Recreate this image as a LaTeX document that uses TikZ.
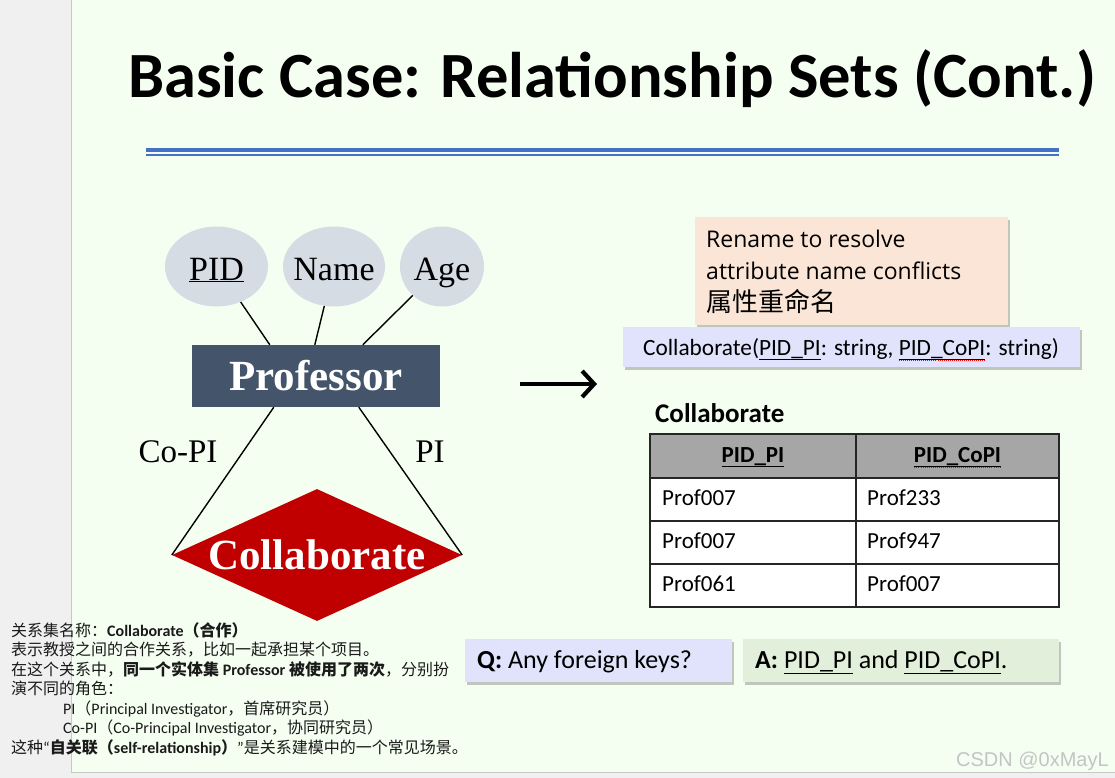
\documentclass[tikz,border=0pt]{standalone}
\usepackage{fontspec}
\setmainfont{Carlito}
\newfontfamily\erfont{Liberation Serif}
\newfontfamily\cjk{Noto Sans CJK SC}
\newfontfamily\osans{Open Sans}
\newfontfamily\wmfont{Liberation Sans}
\usetikzlibrary{shapes.geometric,shadows,arrows.meta,calc}
\definecolor{sidegray}{HTML}{F0F0F0}
\definecolor{slidebg}{HTML}{F5FFF1}
\definecolor{bordergray}{HTML}{C8C8C8}
\definecolor{rulebl}{HTML}{4472C4}
\definecolor{attrfill}{HTML}{D6DCE4}
\definecolor{proffill}{HTML}{44546A}
\definecolor{relfill}{HTML}{C00000}
\definecolor{renamefill}{HTML}{FBE5D6}
\definecolor{lavfill}{HTML}{E0E3FB}
\definecolor{afill}{HTML}{E2EFDA}
\definecolor{hdrfill}{HTML}{A6A6A6}
\definecolor{tabline}{HTML}{262626}
\definecolor{notetext}{HTML}{1A1A1A}
\definecolor{wmgray}{HTML}{C4C4C4}
\newcommand\setfs[1]{\fontsize{#1pt}{#1pt}\selectfont}
\newcommand\redsq[1]{\setbox0=\hbox{#1}\rlap{\raisebox{-5.5pt}{\color{red}\xleaders\hbox to 2pt{\hss\rule{1pt}{1pt}\hss}\hskip\wd0}}\box0}
\begin{document}
\begin{tikzpicture}[x=1pt,y=-1pt,
  txt/.style={anchor=base west, inner sep=0pt},
  attr/.style={ellipse, fill=attrfill, minimum width=103pt, minimum height=80pt, inner sep=0pt,
               text height=27pt, text depth=0pt, font=\erfont\setfs{34}},
  conn/.style={draw=black, line width=1.4pt},
  boxsh/.style={drop shadow={shadow xshift=2pt, shadow yshift=-2.5pt, opacity=0.22, fill=black}},
  note/.style={anchor=base west, inner sep=0pt, text=notetext, font=\setfs{16}},
  cellt/.style={anchor=base west, inner sep=0pt, font=\setfs{23}},
  hdrt/.style={anchor=base, inner sep=0pt, font=\bfseries\setfs{23}}
]
\useasboundingbox (0,0) rectangle (1115,778);
% background
\fill[sidegray] (0,0) rectangle (1115,778);
\fill[slidebg] (72,0) rectangle (1115,772);
\draw[bordergray, line width=1pt] (71.5,0) -- (71.5,772.5) -- (1115,772.5);

% title
\node[txt, font=\bfseries\setfs{64.5}] (title) at (128,98) {Basic Case: Relationship Sets (Cont.)};
\fill[rulebl] (146,148) rectangle (1059,152.5);
\fill[rulebl] (146,154.5) rectangle (1059,156.5);

% ER diagram
\node[attr] (pid) at (216.5,266.5) {\makebox[0pt]{\underline{PID}}};
\node[attr, minimum width=102pt] (name) at (334,266.5) {\makebox[0pt]{Name}};
\node[attr, minimum width=84pt] (age) at (442,266.5) {\makebox[0pt]{Age}};
\node[rectangle, fill=proffill, minimum width=248pt, minimum height=62pt, inner sep=0pt,
      text=white, font=\erfont\bfseries\setfs{43}] (prof) at (316,376) {Professor};
\node[diamond, fill=relfill, minimum width=290pt, minimum height=132pt, inner sep=0pt,
      text=white, font=\erfont\bfseries\setfs{43}] (rel) at (317,555) {\makebox[0pt]{Collaborate}};
\draw[conn] (pid) -- ($(prof.north west)+(78,0)$);
\draw[conn] (name) -- ($(prof.north west)+(123,0)$);
\draw[conn] (age) -- ($(prof.north west)+(171,0)$);
\draw[conn] ($(prof.south west)+(82,0)$) -- (rel.west);
\draw[conn] ($(prof.south west)+(167,0)$) -- (rel.east);
\node[inner sep=0pt, font=\erfont\setfs{33}] (copi) at (178,452) {Co-PI};
\node[inner sep=0pt, font=\erfont\setfs{33}] (pi) at (430,452) {PI};

% big arrow
\coordinate (arrS) at (520,384);
\coordinate (arrE) at (597,384);
\draw[line width=4.2pt, -{Straight Barb[length=12pt,width=26pt]}] (arrS) -- (arrE);

% rename box
\node[fill=renamefill, minimum width=313pt, minimum height=108pt, inner sep=0pt, boxsh] (rename) at (851.5,271) {};
\node[txt, font=\osans\setfs{23}] (rn1) at (706,247) {Rename to resolve};
\node[txt, font=\osans\setfs{23}] (rn2) at (706,279) {attribute name conflicts};
\node[txt, font=\cjk\setfs{26}] (rn3) at (706,311) {属性重命名};

% schema box
\node[fill=lavfill, minimum width=457pt, minimum height=40pt, inner sep=0pt, boxsh] (schema) at (851.5,347) {};
\node[txt, font=\setfs{23.3}] (schemat) at (643,355) {Collaborate(\underline{PID\_PI}: string, \redsq{\underline{PID\_CoPI}}: string)};

% table
\node[txt, font=\bfseries\setfs{27}] (tabtitle) at (655,422) {Collaborate};
\fill[hdrfill] (650,434) rectangle (1059,478);
\fill[white] (650,478) rectangle (1059,607);
\draw[tabline, line width=1.5pt] (650,434) rectangle (1059,607);
\draw[tabline, line width=1.5pt] (856,434) -- (856,607);
\draw[tabline, line width=1.5pt] (650,478) -- (1059,478);
\draw[tabline, line width=1.5pt] (650,521) -- (1059,521);
\draw[tabline, line width=1.5pt] (650,564) -- (1059,564);
\node[hdrt] (h1) at (753,462) {\underline{PID\_PI}};
\node[hdrt] (h2) at (957.5,462) {\redsq{\underline{PID\_CoPI}}};
\node[cellt] (c11) at (662,505) {Prof007};
\node[cellt] (c12) at (867,505) {Prof233};
\node[cellt] (c21) at (662,548) {Prof007};
\node[cellt] (c22) at (867,548) {Prof947};
\node[cellt] (c31) at (662,591) {Prof061};
\node[cellt] (c32) at (867,591) {Prof007};

% Q and A boxes
\node[fill=lavfill, minimum width=267pt, minimum height=43pt, inner sep=0pt, boxsh] (qbox) at (598.5,660.5) {};
\node[txt, font=\setfs{26}] (qt) at (477,668) {\textbf{Q:} Any foreign keys?};
\node[fill=afill, minimum width=316pt, minimum height=43pt, inner sep=0pt, boxsh] (abox) at (901,660.5) {};
\node[txt, font=\setfs{26}] (at) at (755,668) {\textbf{A:} \underline{PID\_PI} and \redsq{\underline{PID\_CoPI}}.};

% notes
\node[note] (n1) at (11,636) {{\cjk 关系集名称：}\textbf{Collaborate}{\cjk\bfseries （合作）}};
\node[note] (n2) at (11,655.5) {{\cjk 表示教授之间的合作关系，比如一起承担某个项目。}};
\node[note] (n3) at (11,675) {{\cjk 在这个关系中，}{\cjk\bfseries 同一个实体集 }\textbf{Professor}{\cjk\bfseries\ 被使用了两次}{\cjk ，分别扮}};
\node[note] (n4) at (11,694.5) {{\cjk 演不同的角色：}};
\node[note] (n5) at (63,714) {PI{\cjk （}Principal Investigator{\cjk ，首席研究员）}};
\node[note] (n6) at (63,733.5) {Co-PI{\cjk （}Co-Principal Investigator{\cjk ，协同研究员）}};
\node[note] (n7) at (11,753) {{\cjk 这种}“{\cjk\bfseries 自关联（}\textbf{self-relationship}{\cjk\bfseries ）}”{\cjk 是关系建模中的一个常见场景。}};

% watermark
\node[txt, text=wmgray, font=\wmfont\setfs{20}] (wm) at (956,766) {CSDN @0xMayL};
\end{tikzpicture}
\end{document}
